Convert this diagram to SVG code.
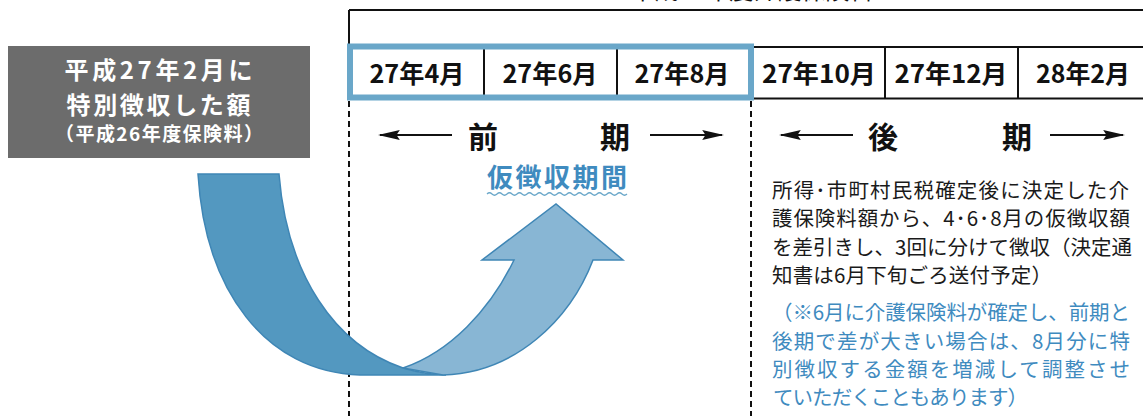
<svg xmlns="http://www.w3.org/2000/svg" width="1143" height="416" viewBox="0 0 1143 416">
<defs>
<style>
.jp{font-family:"Noto Sans CJK JP","Noto Sans",sans-serif}
.cell{font-size:25px;font-weight:bold;fill:#111;text-anchor:middle}
.ln{stroke:#111;stroke-width:2;fill:none}
.dash{stroke:#111;stroke-width:2;stroke-dasharray:6 4;fill:none}
.body{font-size:20.5px;fill:#1a1a1a}
.note{font-size:20.5px;fill:#3f8bbf}
.head{font-size:30px;font-weight:bold;fill:#111}
.arr{stroke:#111;stroke-width:2;fill:none}
</style>
<marker id="ah" viewBox="0 0 10 10" refX="9" refY="5" markerWidth="22" markerHeight="10" markerUnits="userSpaceOnUse" orient="auto" preserveAspectRatio="none">
<path d="M0,0 L10,5 L0,10 L1.5,5 Z" fill="#111"/>
</marker>
</defs>
<rect width="1143" height="416" fill="#fff"/>

<g id="title-cut">
<text class="jp" x="752" y="-1" font-size="24" text-anchor="middle" fill="#111">平成27年度介護保険料</text>
</g>

<g id="table">
<path class="ln" d="M349,10 H1143 M349,10 V47 M750,47 H1143 M750,98.5 H1143 M885,47 V98.5 M1018,47 V98.5 M484,47 V98 M617,47 V98"/>
<rect x="350" y="46.5" width="401" height="51" fill="none" stroke="#6aa7c9" stroke-width="6"/>
<text class="jp cell" x="417" y="83" textLength="95" lengthAdjust="spacingAndGlyphs">27年4月</text>
<text class="jp cell" x="550" y="83" textLength="95" lengthAdjust="spacingAndGlyphs">27年6月</text>
<text class="jp cell" x="682" y="83" textLength="95" lengthAdjust="spacingAndGlyphs">27年8月</text>
<text class="jp cell" x="819" y="83" textLength="114" lengthAdjust="spacingAndGlyphs">27年10月</text>
<text class="jp cell" x="951" y="83" textLength="113" lengthAdjust="spacingAndGlyphs">27年12月</text>
<text class="jp cell" x="1083" y="83" textLength="94" lengthAdjust="spacingAndGlyphs">28年2月</text>
</g>

<g id="dividers">
<path class="dash" d="M349,101 V416 M751,101 V416"/>
</g>

<g id="prev-box">
<rect x="8" y="46" width="302" height="112" fill="#6c6c6c"/>
<text class="jp" x="158.5" y="79" font-size="24" font-weight="bold" fill="#fff" text-anchor="middle" textLength="188" lengthAdjust="spacing">平成27年2月に</text>
<text class="jp" x="158.5" y="114" font-size="24" font-weight="bold" fill="#fff" text-anchor="middle" textLength="184" lengthAdjust="spacing">特別徴収した額</text>
<text class="jp" x="159" y="141" font-size="19" font-weight="bold" fill="#fff" text-anchor="middle" textLength="208" lengthAdjust="spacing">（平成26年度保険料）</text>
</g>

<g id="connectors">
<path class="arr" d="M452,135 H380" marker-end="url(#ah)"/>
<path class="arr" d="M650,135 H722" marker-end="url(#ah)"/>
<path class="arr" d="M853,135 H781" marker-end="url(#ah)"/>
<path class="arr" d="M1050,135 H1123" marker-end="url(#ah)"/>
</g>

<g id="zenki">
<text class="jp head" x="468" y="148">前</text>
<text class="jp head" x="600" y="148">期</text>
</g>
<g id="kouki">
<text class="jp head" x="868" y="148">後</text>
<text class="jp head" x="1002" y="148">期</text>
</g>

<g id="kari">
<text class="jp" x="487" y="187" font-size="26" font-weight="bold" fill="#3f8bbf" textLength="140" lengthAdjust="spacing">仮徴収期間</text>
<path d="M487,194 q2.5,-2.5 5,0 t5,0 t5,0 t5,0 t5,0 t5,0 t5,0 t5,0 t5,0 t5,0 t5,0 t5,0 t5,0 t5,0 t5,0 t5,0 t5,0 t5,0 t5,0 t5,0 t5,0 t5,0 t5,0 t5,0 t5,0 t5,0 t5,0 t5,0" fill="none" stroke="#6aa7c9" stroke-width="1.2"/>
</g>

<g id="curve-arrow">
<path d="M198,174 L279,174 C287,275 335,345 403,368 C420,373 432,375 446,375 L360,375 C265,372 205,290 198,174 Z" fill="#5398c0" stroke="#3f86b5" stroke-width="1.5"/>
<path d="M403,368 C450,352 490,310 514,260 L482,260 L556,204 L623,260 L593,260 C570,320 515,373 443,375 Z" fill="#88b6d4" stroke="#3f86b5" stroke-width="1.5"/>
</g>

<g id="explain">
<text class="jp body" x="772" y="198" textLength="357" lengthAdjust="spacing">所得･市町村民税確定後に決定した介</text>
<text class="jp body" x="772" y="226" textLength="358" lengthAdjust="spacing">護保険料額から、4･6･8月の仮徴収額</text>
<text class="jp body" x="772" y="255" textLength="360" lengthAdjust="spacing">を差引きし、3回に分けて徴収（決定通</text>
<text class="jp body" x="772" y="283" textLength="280" lengthAdjust="spacing">知書は6月下旬ごろ送付予定）</text>
<text class="jp note" x="772" y="320" textLength="358" lengthAdjust="spacing">（※6月に介護保険料が確定し、前期と</text>
<text class="jp note" x="772" y="349" textLength="358" lengthAdjust="spacing">後期で差が大きい場合は、8月分に特</text>
<text class="jp note" x="772" y="377" textLength="358" lengthAdjust="spacing">別徴収する金額を増減して調整させ</text>
<text class="jp note" x="773" y="405" textLength="255" lengthAdjust="spacing">ていただくこともあります）</text>
</g>
</svg>
